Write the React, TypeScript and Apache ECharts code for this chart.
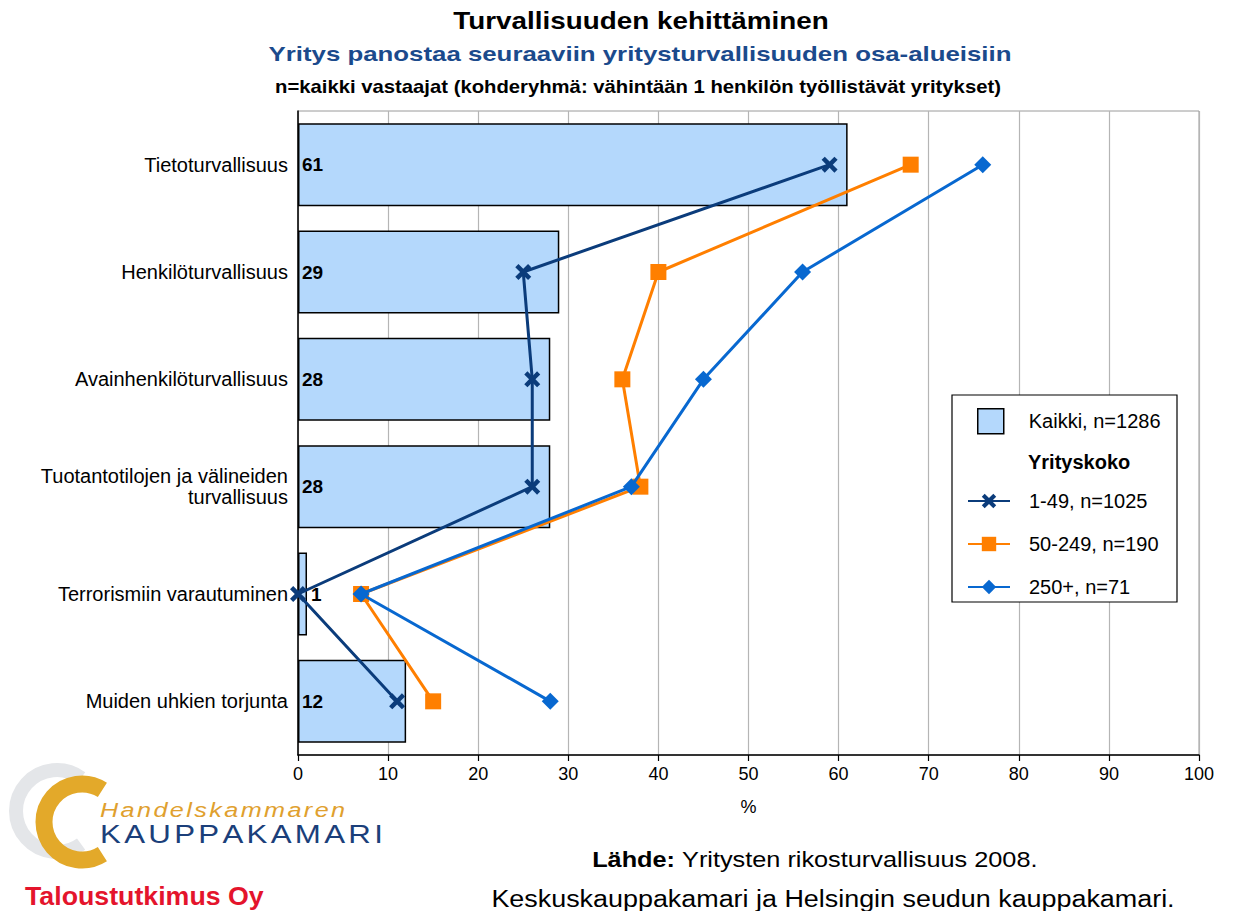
import React, { useEffect, useRef } from "react";
import * as echarts from "echarts";

const categories = [
  "Tietoturvallisuus",
  "Henkilöturvallisuus",
  "Avainhenkilöturvallisuus",
  "Tuotantotilojen ja välineiden\nturvallisuus",
  "Terrorismiin varautuminen",
  "Muiden uhkien torjunta",
];
const kaikki = [61, 29, 28, 28, 1, 12];
const size1_49 = [59, 25, 26, 26, 0, 11];
const size50_249 = [68, 40, 36, 38, 7, 15];
const size250 = [76, 56, 45, 37, 7, 28];
const xTicks = [0, 100, 10];

const seriesNames = ["Kaikki, n=1286", "1-49, n=1025", "50-249, n=190", "250+, n=71"];

const FONT = '"Liberation Sans", Arial, Helvetica, sans-serif';
const CROSS = "path://M2,0 L5,3 L8,0 L10,2 L7,5 L10,8 L8,10 L5,7 L2,10 L0,8 L3,5 L0,2 Z";

const W: Record<string, number> = {
  H: 0.722, a: 0.556, n: 0.556, d: 0.556, e: 0.556, l: 0.222, s: 0.5, k: 0.5, m: 0.833, r: 0.333,
  K: 0.667, A: 0.667, U: 0.722, P: 0.667, M: 0.833, R: 0.722, I: 0.278,
};

function spaced(str: string, x0: number, y: number, size: number, sx: number, spacing: number, style: any) {
  const out: any[] = [];
  let x = x0;
  for (const ch of str) {
    out.push({
      type: "text",
      x,
      y,
      scaleX: sx,
      style: { text: ch, fontSize: size, fontFamily: FONT, textAlign: "left", verticalAlign: "middle", ...style },
    });
    x += (W[ch] ?? 0.55) * size * sx + spacing;
  }
  return out;
}

function txt(text: string, x: number, y: number, size: number, sx: number, extra: any) {
  return {
    type: "text",
    x,
    y,
    scaleX: sx,
    style: { text, fontSize: size, fill: "#000", fontFamily: FONT, textAlign: "center", verticalAlign: "middle", ...extra },
  };
}

export default function App() {
  const ref = useRef<HTMLDivElement>(null);
  useEffect(() => {
    if (!ref.current) return;
    const chart = echarts.init(ref.current, null, { renderer: "svg" });
    const barData = kaikki.map((v) => ({
      value: v,
      label: { position: v < 3 ? "right" : "insideLeft" },
    }));
    const option: any = {
      animation: false,
      backgroundColor: "#fff",
      textStyle: { fontFamily: FONT },
      grid: {
        left: 298,
        right: 34,
        top: 111,
        bottom: 156,
        show: true,
        borderColor: "#9a9a9a",
        borderWidth: 1,
        backgroundColor: "transparent",
      },
      xAxis: {
        type: "value",
        min: xTicks[0],
        max: xTicks[1],
        interval: xTicks[2],
        name: "%",
        nameLocation: "middle",
        nameGap: 43,
        nameTextStyle: { fontSize: 18, color: "#000", fontFamily: FONT },
        axisLine: { show: true, lineStyle: { color: "#000", width: 1.5 } },
        axisTick: { show: true, length: 6, lineStyle: { color: "#000", width: 1.2 } },
        axisLabel: { fontSize: 18, color: "#000", margin: 10, fontFamily: FONT },
        splitLine: { show: true, lineStyle: { color: "#b5b5b5", width: 1.2 } },
      },
      yAxis: {
        type: "category",
        inverse: true,
        data: categories,
        axisLine: { show: true, lineStyle: { color: "#000", width: 1.5 } },
        axisTick: { show: false },
        axisLabel: { fontSize: 20, color: "#000", margin: 10, lineHeight: 21, align: "right", fontFamily: FONT },
        splitLine: { show: false },
      },
      legend: [
        {
          data: [{ name: seriesNames[0], icon: "rect" }],
          left: 977,
          top: 408,
          padding: 0,
          itemWidth: 26,
          itemHeight: 25,
          z: 10,
          itemStyle: { borderColor: "#000", borderWidth: 1.5 },
          textStyle: { fontSize: 20, color: "#000", fontFamily: FONT, padding: [0, 0, 0, 20] },
        },
        {
          data: seriesNames.slice(1),
          orient: "vertical",
          left: 967,
          top: 491,
          padding: 0,
          itemWidth: 42,
          itemHeight: 18,
          itemGap: 23,
          z: 10,
          textStyle: { fontSize: 20, color: "#000", fontFamily: FONT, padding: [0, 0, 0, 14] },
        },
      ],
      series: [
        {
          name: seriesNames[0],
          type: "bar",
          data: barData,
          barWidth: 83,
          itemStyle: { color: "#B4D8FC", borderColor: "#000", borderWidth: 1.5 },
          label: {
            show: true,
            distance: 4,
            fontSize: 19,
            fontWeight: "bold",
            color: "#000",
            fontFamily: FONT,
          },
          z: 2,
        },
        {
          name: seriesNames[1],
          type: "line",
          data: size1_49,
          symbol: CROSS,
          symbolSize: 16,
          color: "#0B3C7B",
          lineStyle: { color: "#0B3C7B", width: 3 },
          itemStyle: { color: "#0B3C7B" },
          z: 3,
        },
        {
          name: seriesNames[2],
          type: "line",
          data: size50_249,
          symbol: "rect",
          symbolSize: 16,
          color: "#FF7F00",
          lineStyle: { color: "#FF7F00", width: 3 },
          itemStyle: { color: "#FF7F00" },
          z: 4,
        },
        {
          name: seriesNames[3],
          type: "line",
          data: size250,
          symbol: "diamond",
          symbolSize: 17,
          color: "#0868D0",
          lineStyle: { color: "#0868D0", width: 3 },
          itemStyle: { color: "#0868D0" },
          z: 5,
        },
      ],
      graphic: [
        {
          type: "rect",
          z: 5,
          shape: { x: 952, y: 395, width: 225, height: 207 },
          style: { fill: "#fff", stroke: "#000", lineWidth: 1.2 },
        },
        {
          type: "text",
          z: 11,
          x: 1028,
          y: 462,
          style: { text: "Yrityskoko", fontSize: 20, fontWeight: "bold", fill: "#000", fontFamily: FONT, verticalAlign: "middle" },
        },
        txt("Turvallisuuden kehittäminen", 641, 21, 24, 1.16, { fontWeight: "bold" }),
        txt("Yritys panostaa seuraaviin yritysturvallisuuden osa-alueisiin", 640, 54, 21, 1.23, { fontWeight: "bold", fill: "#1B4A8C" }),
        txt("n=kaikki vastaajat (kohderyhmä: vähintään 1 henkilön työllistävät yritykset)", 638, 87, 18, 1.127, { fontWeight: "bold" }),
        txt("{b|Lähde:} Yritysten rikosturvallisuus 2008.", 815, 860, 22, 1.15, {
          rich: { b: { fontSize: 22, fontWeight: "bold", fill: "#000", fontFamily: FONT } },
        }),
        txt("Keskuskauppakamari ja Helsingin seudun kauppakamari.", 833, 899, 23, 1.17, {}),
        {
          type: "text",
          x: 25,
          y: 896,
          scaleX: 1.07,
          style: { text: "Taloustutkimus Oy", fontSize: 25, fontWeight: "bold", fill: "#E4142C", fontFamily: FONT, textAlign: "left", verticalAlign: "middle" },
        },
        {
          type: "arc",
          shape: { cx: 57, cy: 811, r: 41, startAngle: Math.PI * 0.3, endAngle: Math.PI * 1.7, clockwise: true },
          style: { stroke: "#E4E6E9", lineWidth: 14, fill: "none" },
        },
        {
          type: "arc",
          shape: { cx: 82, cy: 822, r: 38, startAngle: Math.PI * 0.32, endAngle: Math.PI * 1.68, clockwise: true },
          style: { stroke: "#E3A92A", lineWidth: 17, fill: "none" },
        },
        {
          type: "group",
          children: spaced("Handelskammaren", 100, 810, 21, 1.2, 2.4, { fill: "#E0A02E", fontStyle: "italic" }),
        },
        {
          type: "group",
          children: spaced("KAUPPAKAMARI", 100, 834, 25, 1.25, 3.3, { fill: "#1B3F7A" }),
        },
      ],
    };
    chart.setOption(option);
    return () => chart.dispose();
  }, []);
  return <div ref={ref} style={{ position: "fixed", left: 0, top: 0, width: 1233, height: 911 }} />;
}
